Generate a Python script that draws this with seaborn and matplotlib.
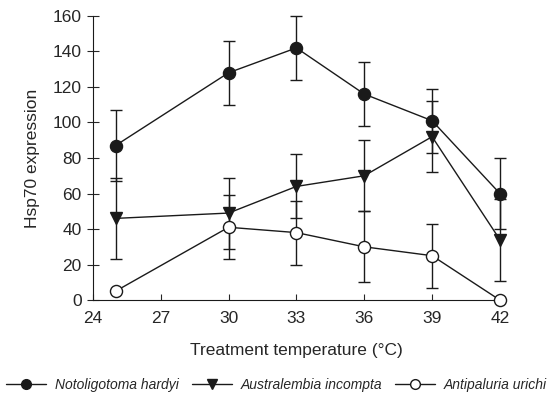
import seaborn as sns
import numpy as np
import pandas as pd
import matplotlib.pyplot as plt
from matplotlib.lines import Line2D

temps = [25, 30, 33, 36, 39, 42]
species = ["Notoligotoma hardyi", "Australembia incompta", "Antipaluria urichi"]

hardyi_mean = [87, 128, 142, 116, 101, 60]
hardyi_err = [20, 18, 18, 18, 18, 20]
incompta_mean = [46, 49, 64, 70, 92, 34]
incompta_err = [23, 20, 18, 20, 20, 23]
urichi_mean = [5, 41, 38, 30, 25, 0]
urichi_err = [0, 18, 18, 20, 18, 0]

sns.set_style("ticks")
plt.rcParams["font.family"] = ["Liberation Sans", "DejaVu Sans"]

df = pd.DataFrame({
    "temp": temps * 3,
    "mean": hardyi_mean + incompta_mean + urichi_mean,
    "err": hardyi_err + incompta_err + urichi_err,
    "species": np.repeat(species, len(temps)),
})

styles = {
    "Notoligotoma hardyi": dict(marker="o", mfc="#1a1a1a", ms=8.7),
    "Australembia incompta": dict(marker="v", mfc="#1a1a1a", ms=8.7),
    "Antipaluria urichi": dict(marker="o", mfc="white", ms=8.7),
}

fig = plt.figure(figsize=(5.53, 3.98), dpi=100)
ax = fig.add_axes([0.168, 0.246, 0.736, 0.714])

for sp in species:
    d = df[df["species"] == sp]
    eb = ax.errorbar(d["temp"], d["mean"], yerr=d["err"], fmt="none",
                     ecolor="#1a1a1a", elinewidth=1, capsize=4, capthick=1, zorder=2)
    for art in eb.lines[1] + eb.lines[2]:
        art.set_clip_on(False)
    sns.lineplot(data=d, x="temp", y="mean", ax=ax, color="#1a1a1a", lw=1,
                 mec="#1a1a1a", mew=1, zorder=3, clip_on=False, **styles[sp])

ax.set_xlim(24, 42)
ax.set_ylim(0, 160)
ax.set_xticks(range(24, 43, 3))
ax.set_yticks(range(0, 161, 20))
ax.tick_params(axis="x", direction="in", length=4, labelsize=12.5, pad=8)
ax.tick_params(axis="y", direction="inout", length=8, labelsize=12.5, pad=4)
ax.set_xlabel("Treatment temperature (°C)", fontsize=12.5, labelpad=12)
ax.set_ylabel("Hsp70 expression", fontsize=12.5, labelpad=9)
for s in ["left", "bottom"]:
    ax.spines[s].set_color("#1a1a1a")
sns.despine(ax=ax, trim=False)

handles = [Line2D([], [], color="#1a1a1a", lw=1, mec="#1a1a1a",
                  marker=styles[sp]["marker"], mfc=styles[sp]["mfc"], ms=7)
           for sp in species]
fig.legend(handles, species, loc="center", bbox_to_anchor=(0.5, 0.033),
           ncol=3, frameon=False, prop={"style": "italic", "size": 10},
           handlelength=2.9, handletextpad=0.6, columnspacing=0.95,
           borderpad=0, borderaxespad=0)

plt.savefig("out.png", dpi=100)
